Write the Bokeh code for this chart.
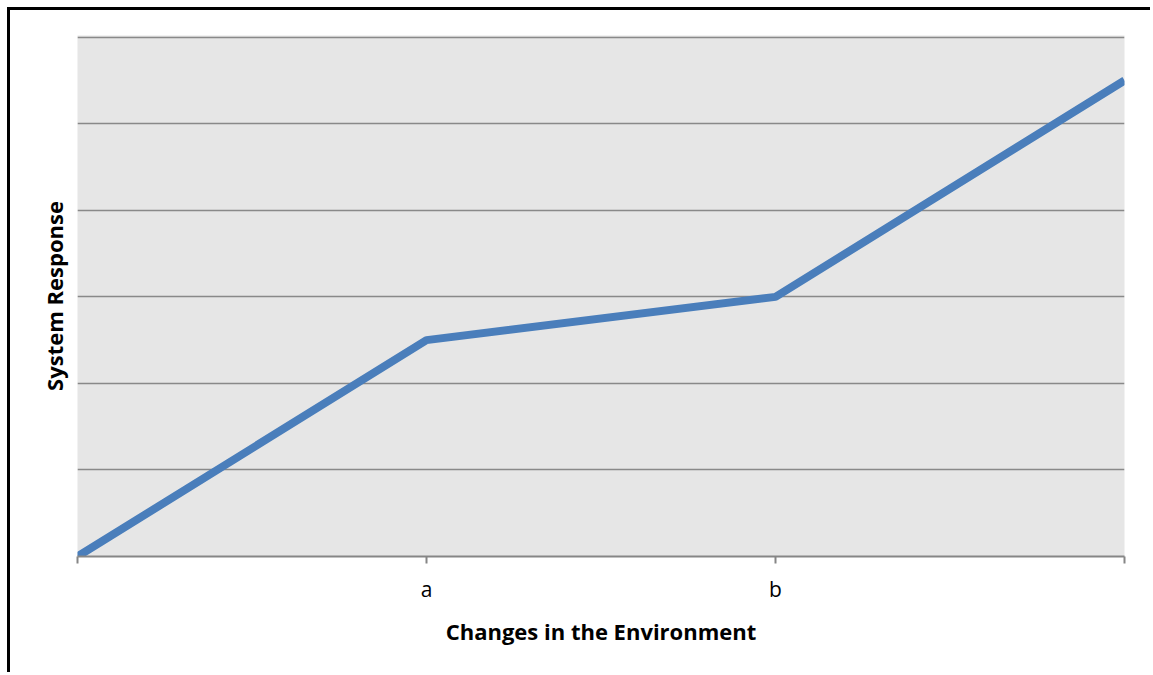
from bokeh.plotting import figure
from bokeh.models import FixedTicker, Range1d
from bokeh.embed import file_html
from bokeh.resources import INLINE

x_pos = [0, 1, 2, 3]
x_labels = ["", "a", "b", ""]
response = [0, 2.5, 3, 5.5]
y_ticks = [0, 1, 2, 3, 4, 5, 6]

p = figure(width=1143, height=665, output_backend="svg", toolbar_location=None,
           x_range=Range1d(0, 3), y_range=Range1d(0, 6.02),
           min_border_left=67, min_border_right=29, min_border_top=25, min_border_bottom=119)
p.styles = {"border-left": "3px solid black", "border-top": "3px solid black",
            "margin-left": "7px", "margin-top": "7px"}

p.border_fill_color = "white"
p.background_fill_color = "#e6e6e6"
p.outline_line_color = None

p.line(x_pos, response, line_color="#4a7ebb", line_width=8)

p.xaxis.ticker = FixedTicker(ticks=x_pos)
p.xaxis.major_label_overrides = {i: l for i, l in zip(x_pos, x_labels)}
p.xaxis.axis_line_color = "#868686"
p.xaxis.axis_line_width = 2
p.xaxis.major_tick_line_color = "#868686"
p.xaxis.major_tick_line_width = 2
p.xaxis.major_tick_in = 0
p.xaxis.major_tick_out = 7
p.xaxis.minor_tick_line_color = None
p.xaxis.major_label_text_font = "Open Sans"
p.xaxis.major_label_text_font_size = "21px"
p.xaxis.major_label_text_color = "black"
p.xaxis.major_label_standoff = 11
p.xaxis.axis_label = "Changes in the Environment"
p.xaxis.axis_label_text_font = "Open Sans"
p.xaxis.axis_label_text_font_style = "bold"
p.xaxis.axis_label_text_font_size = "22px"
p.xaxis.axis_label_text_color = "black"
p.xaxis.axis_label_standoff = 10

p.yaxis.ticker = FixedTicker(ticks=y_ticks)
p.yaxis.major_label_overrides = {t: "" for t in y_ticks}
p.yaxis.axis_line_color = None
p.yaxis.major_tick_line_color = None
p.yaxis.minor_tick_line_color = None
p.yaxis.major_label_standoff = 0
p.yaxis.axis_label = "System Response"
p.yaxis.axis_label_text_font = "Open Sans"
p.yaxis.axis_label_text_font_style = "bold"
p.yaxis.axis_label_text_font_size = "22px"
p.yaxis.axis_label_text_color = "black"
p.yaxis.axis_label_standoff = 3

p.xgrid.grid_line_color = None
p.ygrid.ticker = FixedTicker(ticks=y_ticks)
p.ygrid.grid_line_color = "#898989"
p.ygrid.grid_line_width = 1.5

open("out.html", "w").write(file_html(p, INLINE))
